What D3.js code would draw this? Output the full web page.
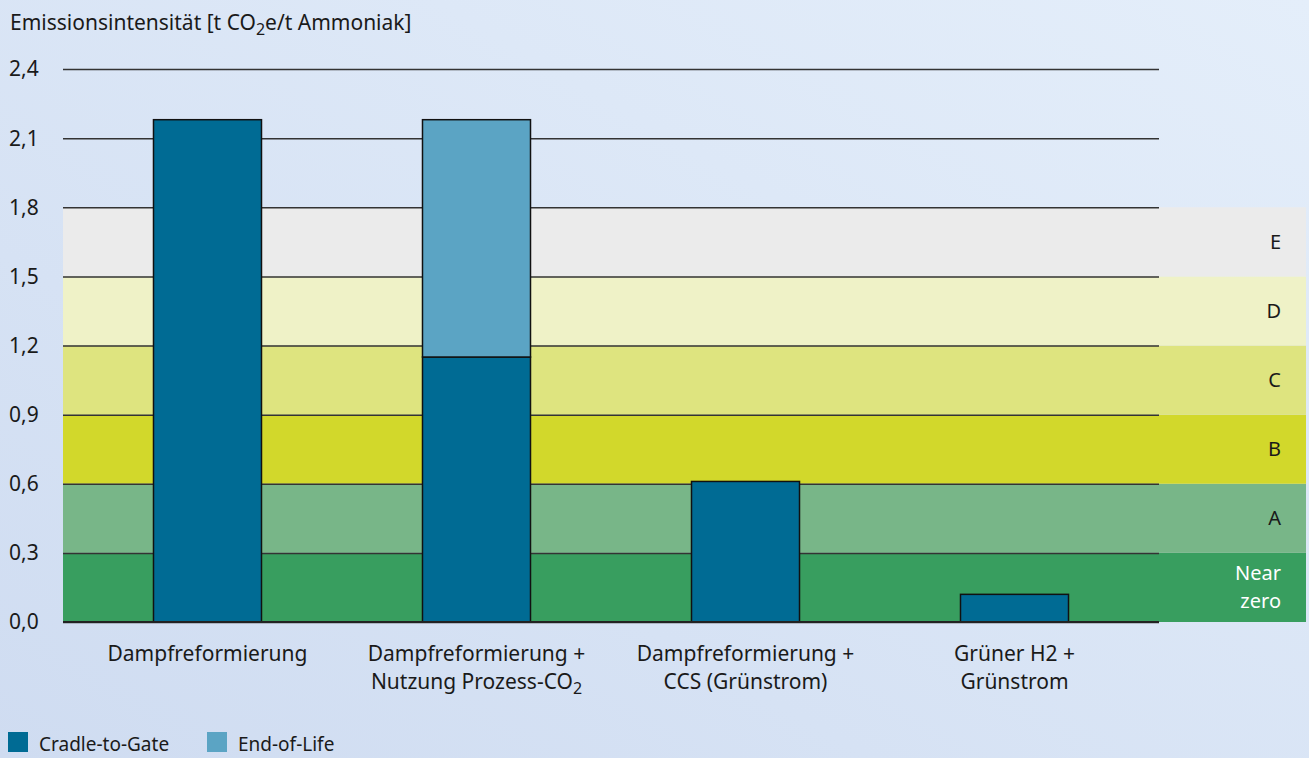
<!DOCTYPE html>
<html><head><meta charset="utf-8">
<script src="https://cdn.jsdelivr.net/npm/d3@7"></script>
<style>html,body{margin:0;padding:0;}svg{display:block;}</style>
</head><body>
<svg id="c" width="1309" height="758"></svg>
<script>
const categories = [["Dampfreformierung"], ["Dampfreformierung +", "Nutzung Prozess-CO₂"], ["Dampfreformierung +", "CCS (Grünstrom)"], ["Grüner H2 +", "Grünstrom"]];
const cradleToGate = [2.18, 1.15, 0.61, 0.12];
const endOfLife = [0, 1.03, 0, 0];
const yTicks = [0, 0.3, 0.6, 0.9, 1.2, 1.5, 1.8, 2.1, 2.4];
const bandLabels = [["Near", "zero"], ["A"], ["B"], ["C"], ["D"], ["E"]];
const bandLimits = [0, 0.3, 0.6, 0.9, 1.2, 1.5, 1.8];
const bandColors = ["#389e5f", "#78b688", "#d2d82b", "#dee47f", "#eff2c7", "#ebebeb"];
const seriesNames = ["Cradle-to-Gate", "End-of-Life"];
const seriesColors = ["#006b94", "#5ba4c4"];

const svg = d3.select("#c");
const font = "'Noto Sans', sans-serif";
const FS = 21;
const defs = svg.append("defs");
const g = defs.append("linearGradient").attr("id","bg").attr("x1","100%").attr("y1","0%").attr("x2","0%").attr("y2","100%");
g.append("stop").attr("offset","0%").attr("stop-color","#e4eefa");
g.append("stop").attr("offset","100%").attr("stop-color","#cfdcf1");
svg.append("rect").attr("width",1309).attr("height",758).attr("fill","url(#bg)");

const y = d3.scaleLinear().domain([0, 2.4]).range([622, 69]);
const x = d3.scaleBand().domain(d3.range(categories.length)).range([63, 1159]).paddingInner(0.5985).paddingOuter(0.3364);

// bands
svg.append("g").selectAll("rect").data(bandColors).join("rect")
  .attr("x", 63).attr("width", 1306 - 63)
  .attr("y", (d,i) => y(bandLimits[i+1])).attr("height", (d,i) => y(bandLimits[i]) - y(bandLimits[i+1]))
  .attr("fill", d => d);

// band labels
const bl = svg.append("g").attr("font-family", font).attr("font-size", 20).attr("text-anchor","end");
bandLabels.forEach((lines, i) => {
  const cy = (y(bandLimits[i]) + y(bandLimits[i+1])) / 2;
  const t = bl.append("text").attr("x", 1281).attr("fill", i === 0 ? "#ffffff" : "#1a1a1a");
  const n = lines.length;
  lines.forEach((l, j) => {
    t.append("tspan").attr("x", 1281).attr("y", cy + 7 + (j - (n-1)/2) * 28).text(l);
  });
});

// gridlines + y axis
const yAxis = d3.axisLeft(y).tickValues(yTicks).tickSize(-(1159-63)).tickFormat(d => d3.format(".1f")(d).replace(".", ","));
const ya = svg.append("g").attr("transform","translate(63,0)").call(yAxis);
ya.select(".domain").remove();
ya.selectAll(".tick line").attr("stroke","#333").attr("stroke-width",1.5);
ya.selectAll(".tick text").attr("x", -54).attr("text-anchor","start").attr("font-family", font).attr("font-size", FS).attr("fill","#1a1a1a").attr("dy","0.33em");

// bars
const stacks = [cradleToGate, endOfLife];
const bars = svg.append("g");
categories.forEach((c, i) => {
  let base = 0;
  stacks.forEach((s, k) => {
    const v = s[i];
    if (v > 0) {
      bars.append("rect").attr("x", x(i)).attr("width", x.bandwidth())
        .attr("y", y(base + v)).attr("height", y(base) - y(base + v))
        .attr("fill", seriesColors[k]).attr("stroke", "#111").attr("stroke-width", 1.5);
    }
    base += v;
  });
});
// zero line on top
svg.append("line").attr("x1",63).attr("x2",1159).attr("y1",y(0)).attr("y2",y(0)).attr("stroke","#222").attr("stroke-width",2);

// x labels
const xl = svg.append("g").attr("font-family", font).attr("font-size", FS).attr("fill","#1a1a1a").attr("text-anchor","middle");
categories.forEach((lines, i) => {
  const cx = x(i) + x.bandwidth()/2;
  const t = xl.append("text");
  lines.forEach((l, j) => {
    const ts = t.append("tspan").attr("x", cx).attr("y", 661 + j*28);
    if (l.includes("CO₂")) {
      ts.text(l.replace("CO₂", "CO"));
      t.append("tspan").attr("font-size", 16).attr("dy", 5).text("2");
    } else ts.text(l);
  });
});

// title
const tt = svg.append("text").attr("x", 10).attr("y", 30).attr("font-family", font).attr("font-size", FS).attr("fill","#1a1a1a");
tt.append("tspan").text("Emissionsintensität [t CO");
tt.append("tspan").attr("font-size", 16).attr("dy", 5).text("2");
tt.append("tspan").attr("dy", -5).text("e/t Ammoniak]");

// legend
const lg = svg.append("g").attr("font-family", font).attr("font-size", 19).attr("fill","#1a1a1a");
const lx = [8, 207];
seriesNames.forEach((n, i) => {
  lg.append("rect").attr("x", lx[i]).attr("y", 732).attr("width", 20).attr("height", 20).attr("fill", seriesColors[i]);
  lg.append("text").attr("x", lx[i] + 31).attr("y", 751).text(n);
});
</script>
</body></html>
